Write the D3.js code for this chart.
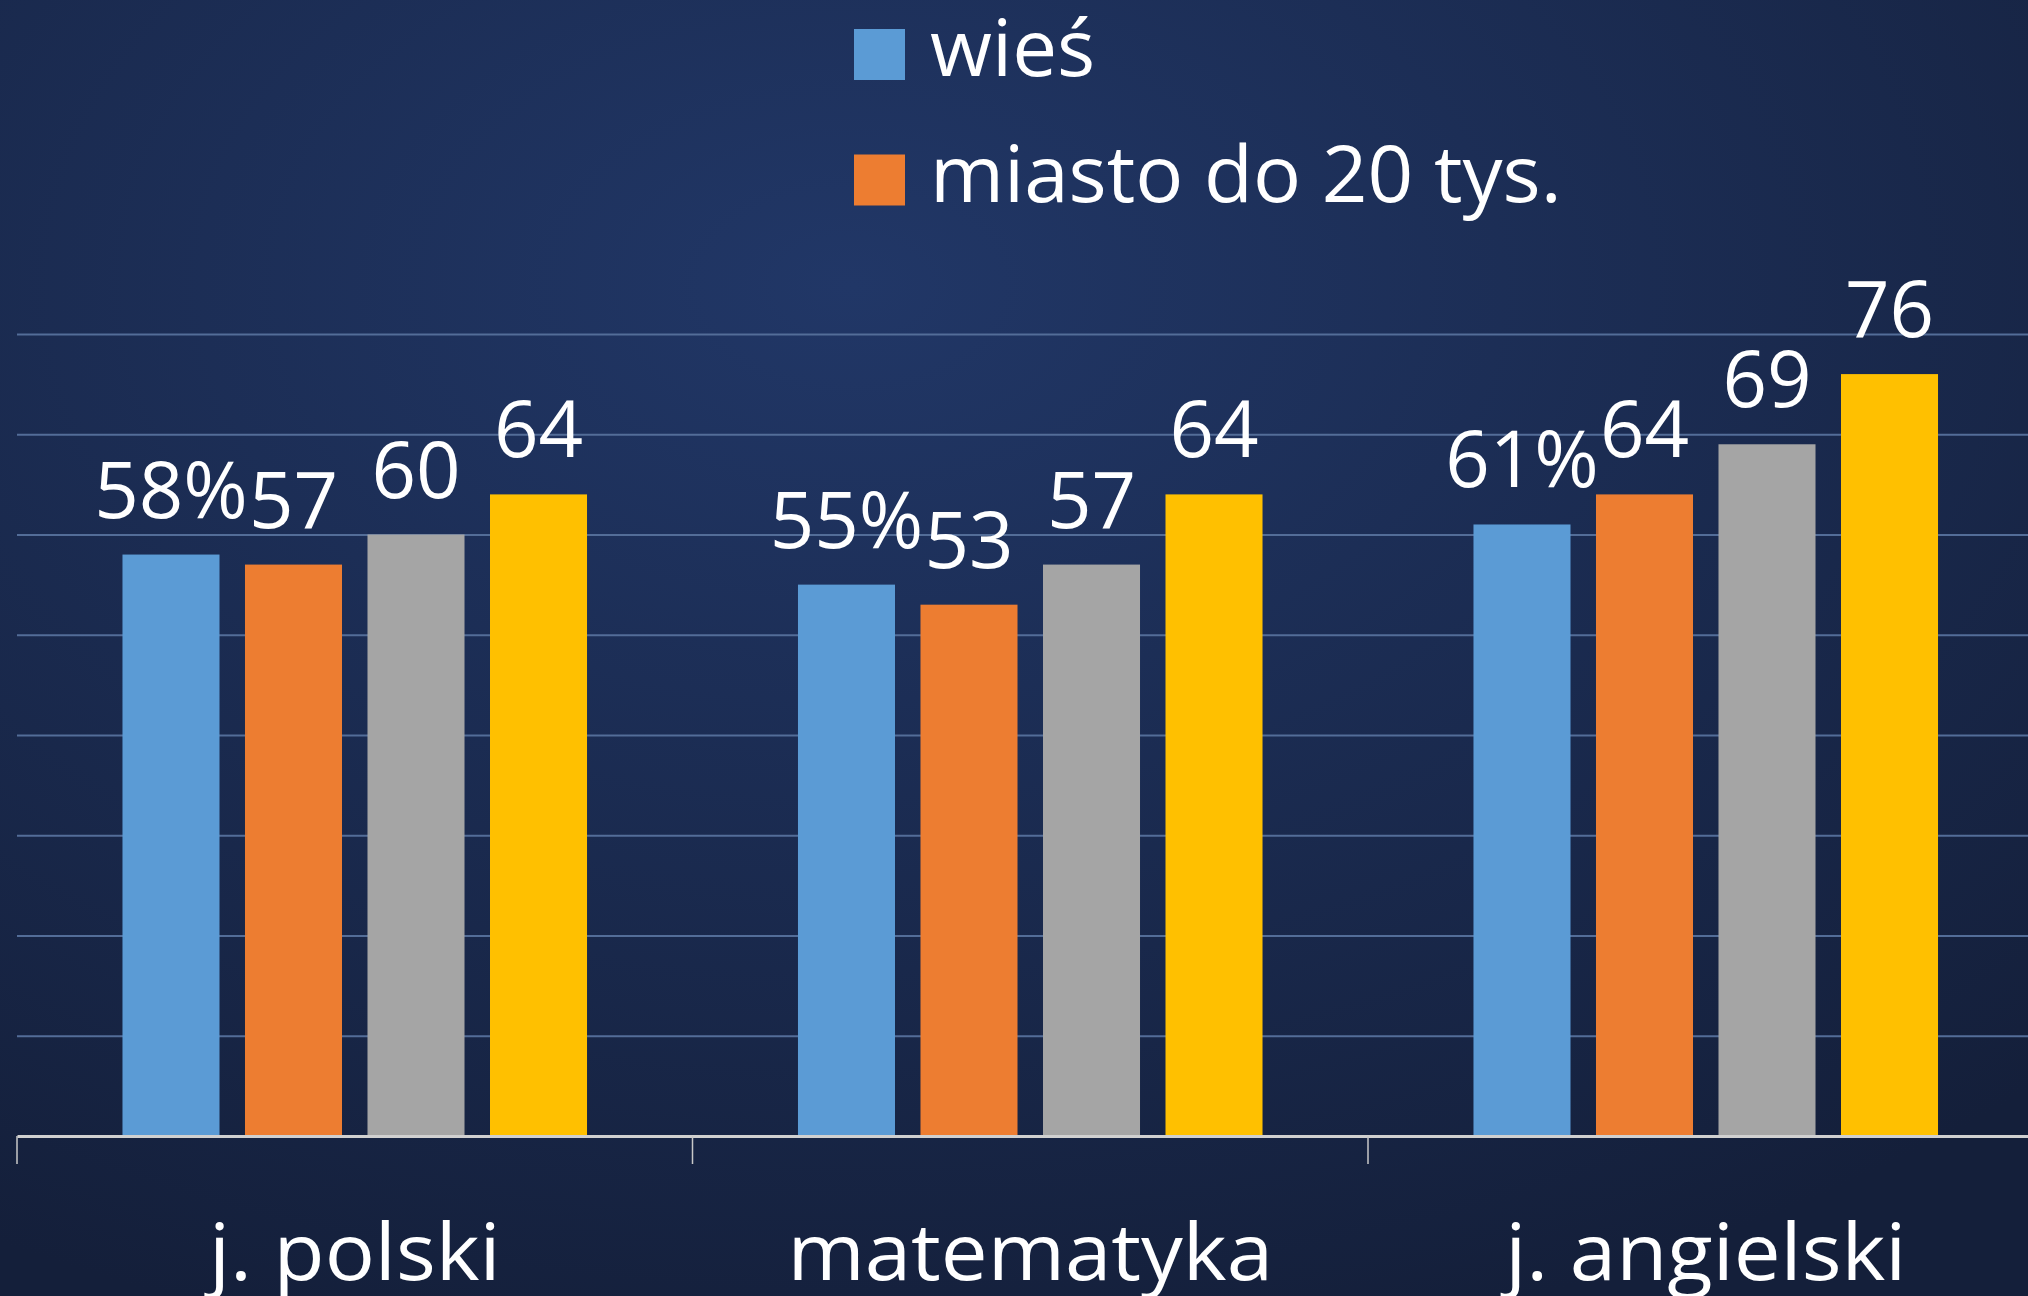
<!DOCTYPE html>
<html>
<head>
<meta charset="utf-8">
<script src="https://cdn.jsdelivr.net/npm/d3@7"></script>
<style>
  body { margin: 0; background: #172544; }
  svg { display: block; }
  text { font-family: 'Open Sans', sans-serif; fill: #ffffff; }
</style>
</head>
<body>
<svg id="chart"></svg>
<script>
// Data
const categories = ['j. polski', 'matematyka', 'j. angielski'];
const seriesNames = ['wieś', 'miasto do 20 tys.', 'miasto 20–100 tys.', 'miasto powyżej 100 tys.'];
const wies = [58, 55, 61];
const miastoDo20 = [57, 53, 64];
const miasto20do100 = [60, 57, 69];
const miastoPow100 = [64, 64, 76];
const yTicks = [10, 20, 30, 40, 50, 60, 70, 80];
const legendVisible = 2;  // only first two legend entries fit in the view

const seriesValues = [wies, miastoDo20, miasto20do100, miastoPow100];
const colors = ['#5B9BD5', '#ED7D31', '#A5A5A5', '#FFC000'];

const width = 2028, height = 1296;
const left = 17, right = 2043.5, axisY = 1136, topY = 334;
const fontSize = 78;

const svg = d3.select('#chart').attr('width', width).attr('height', height);

// background
const defs = svg.append('defs');
const grad = defs.append('radialGradient').attr('id', 'bg')
    .attr('cx', '42%').attr('cy', '22%').attr('r', '85%');
grad.append('stop').attr('offset', '0%').attr('stop-color', '#213767');
grad.append('stop').attr('offset', '100%').attr('stop-color', '#141f3a');
svg.append('rect').attr('width', width).attr('height', height).attr('fill', 'url(#bg)');

const x0 = d3.scaleBand().domain(categories).range([left, right]);
const x1 = d3.scaleBand().domain(d3.range(seriesNames.length))
    .range([0, x0.bandwidth()])
    .paddingInner(0.208)
    .paddingOuter(0.861);
const y = d3.scaleLinear().domain([0, 80]).range([axisY, topY]);

// gridlines
svg.append('g')
    .attr('transform', `translate(${left},0)`)
    .call(d3.axisLeft(y).tickValues(yTicks).tickSize(-(right - left)).tickFormat(''))
    .call(g => g.select('.domain').remove())
    .call(g => g.selectAll('line').attr('stroke', '#536d98').attr('stroke-width', 2));

// bars
const groups = svg.append('g').selectAll('g')
    .data(categories)
    .join('g')
    .attr('transform', d => `translate(${x0(d)},0)`);

groups.selectAll('rect')
    .data((c, ci) => seriesValues.map((vals, si) => ({si, v: vals[ci]})))
    .join('rect')
    .attr('x', d => x1(d.si))
    .attr('width', x1.bandwidth())
    .attr('y', d => y(d.v))
    .attr('height', d => axisY - y(d.v))
    .attr('fill', d => colors[d.si]);

// data labels
groups.selectAll('text.val')
    .data((c, ci) => seriesValues.map((vals, si) => ({si, v: vals[ci]})))
    .join('text')
    .attr('class', 'val')
    .attr('x', d => x1(d.si) + x1.bandwidth() / 2)
    .attr('y', d => y(d.v) - 37)
    .attr('text-anchor', 'middle')
    .style('font-size', fontSize + 'px')
    .text(d => d.si === 0 ? d.v + '%' : d.v);

// x axis
svg.append('g')
    .attr('transform', `translate(0,${axisY})`)
    .call(d3.axisBottom(x0).tickSize(0).tickSizeOuter(0))
    .call(g => g.select('.domain').attr('stroke', '#d0d0d0').attr('stroke-width', 3))
    .call(g => g.selectAll('text')
        .attr('class', 'cat')
        .attr('y', 144).attr('dy', 0)
        .attr('fill', '#ffffff')
        .style('font-family', "'Open Sans', sans-serif")
        .style('font-size', fontSize + 'px'));

svg.append('g').selectAll('line')
    .data(categories)
    .join('line')
    .attr('x1', d => x0(d)).attr('x2', d => x0(d))
    .attr('y1', axisY).attr('y2', axisY + 28)
    .attr('stroke', '#c8c8c8').attr('stroke-width', 1.5);

// legend
const legend = svg.append('g').selectAll('g')
    .data(seriesNames.slice(0, legendVisible))
    .join('g')
    .attr('transform', (d, i) => `translate(854,${29 + i * 125.5})`);
legend.append('rect').attr('width', 51).attr('height', 51).attr('fill', (d, i) => colors[i]);
legend.append('text').attr('class', 'leg').attr('x', 76).attr('y', 47)
    .style('font-size', fontSize + 'px')
    .text(d => d);

// widen text a little to match the rounder, wider original font
function widen(sel, k) {
    sel.each(function () {
        const len = this.getComputedTextLength();
        if (len > 0) d3.select(this).attr('textLength', len * k).attr('lengthAdjust', 'spacingAndGlyphs');
    });
}
widen(svg.selectAll('text.cat'), 1.07);
widen(svg.selectAll('text.leg'), 1.025);
</script>
</body>
</html>
